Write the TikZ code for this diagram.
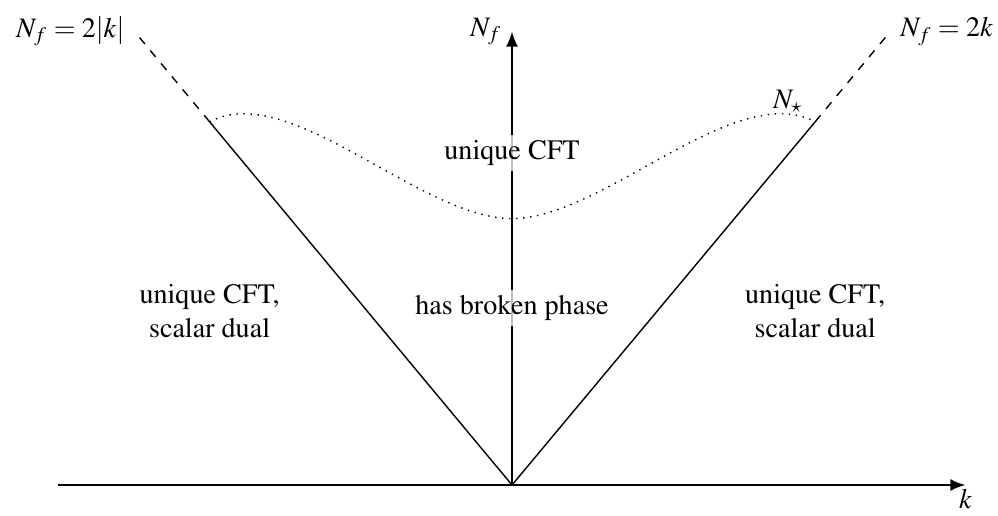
\documentclass[tikz,border=0pt]{standalone}
\usepackage[T1]{fontenc}
\usepackage{mathptmx}
\usetikzlibrary{arrows.meta,positioning}
\tikzset{
  axis/.style={thick, -{Latex[length=1.9mm,width=1.5mm]}},
  bound/.style={line width=0.5pt},
  ext/.style={dashed, line width=0.5pt},
  nstar/.style={dotted, line width=0.5pt},
  region/.style={align=center, inner sep=2pt},
  cover/.style={region, fill=white, fill opacity=0.75, text opacity=1},
}

\begin{document}
\begin{tikzpicture}
\useasboundingbox (-6.4,-0.375) rectangle (6.075,6.0625);
\coordinate (O) at (0,0);
\coordinate (xl) at (-5.67,0);
\coordinate (xr) at (5.67,0);
\coordinate (yt) at (0,5.67);
\coordinate (L) at (-3.78,4.54);
\coordinate (R) at (3.79,4.54);
\coordinate (Lx) at (-4.72,5.67);
\coordinate (Rx) at (4.73,5.67);
\coordinate (M) at (0,3.33);

% axes
\draw[axis] (xl) -- (xr) node[below, inner sep=1pt] (k) {$k$};
\draw[axis] (O) -- (yt) node[left] (nf) {$N_f$};

% phase boundaries
\draw[bound] (O) -- (L);
\draw[bound] (O) -- (R);
\draw[ext] (L) -- (Lx);
\draw[ext] (R) -- (Rx);
\draw[nstar] (L) .. controls (-2.78,5.07) and (-1.15,3.33) .. (M)
             .. controls (1.15,3.33) and (2.78,5.07) .. (R);

% region labels
\node[cover] (top) at (0,4.15) {unique CFT};
\node[cover] (mid) at (0,2.21) {has broken phase};
\node[region] (lhs) at (-3.78,2.17) {unique CFT,\\scalar dual};
\node[region] (rhs) at (3.79,2.17) {unique CFT,\\scalar dual};

\node[left] (nl) at (Lx) {$N_f=2|k|$};
\node[right] (nr) at (Rx) {$N_f=2k$};
\node (ns) at (3.45,4.8) {$N_\star$};
\end{tikzpicture}
\end{document}
